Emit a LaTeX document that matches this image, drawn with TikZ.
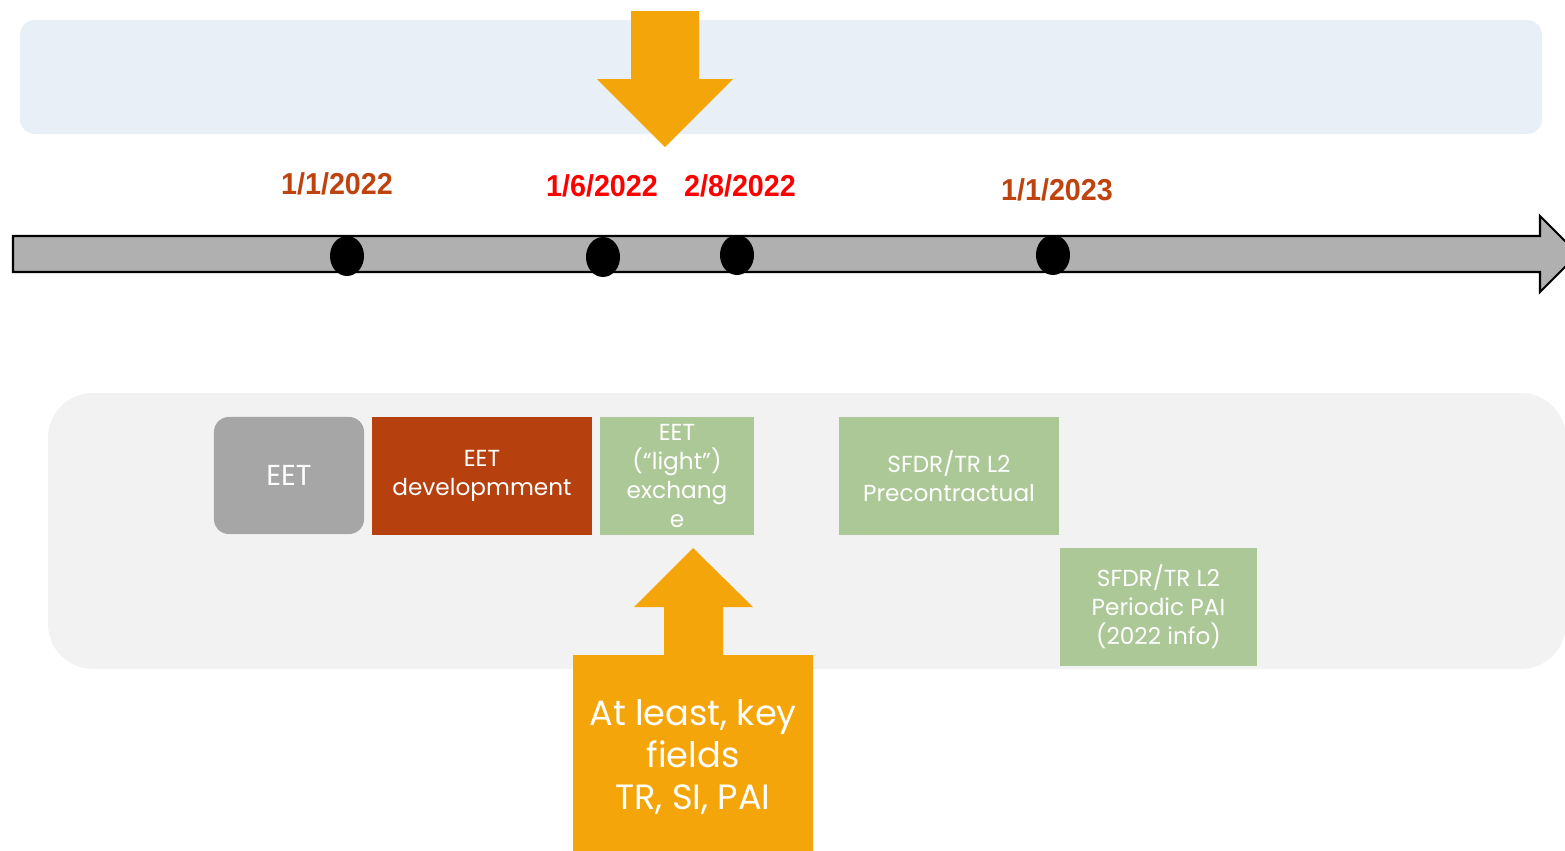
\documentclass[tikz,border=0pt]{standalone}
\usepackage{fontspec}
\setmainfont{Poppins}
\newfontfamily\datefont[FakeStretch=0.95]{Liberation Sans}
\definecolor{ffaaqq}{rgb}{0.957,0.647,0.039}
\definecolor{bbttqq}{rgb}{0.718,0.255,0.055}
\definecolor{aaccaa}{rgb}{0.675,0.784,0.588}
\definecolor{aaaaaa}{rgb}{0.651,0.651,0.651}
\definecolor{eeeeff}{rgb}{0.910,0.937,0.965}
\definecolor{eeeeee}{rgb}{0.949,0.949,0.949}
\definecolor{bbbbbb}{rgb}{0.690,0.690,0.690}
\definecolor{ccttqq}{rgb}{0.745,0.263,0.059}
\definecolor{ffqqqq}{rgb}{1,0,0}

\begin{document}
\begin{tikzpicture}[line cap=round,line join=round,x=0.01cm,y=-0.01cm,
  box/.style={rectangle,inner sep=0pt,align=center,text=white,minimum height=1.18cm,font=\fontsize{6.6}{8.3}\selectfont},
  date/.style={font=\datefont\bfseries\fontsize{8.6}{10}\selectfont}]
\clip(0,0) rectangle (1565,851);
% panels
\fill[color=eeeeff,rounded corners=0.15cm] (20,20) rectangle (1542,134);
\fill[color=eeeeee,rounded corners=0.45cm] (48,393) rectangle (1566,669);
% arrow down into the top panel
\fill[color=ffaaqq] (631,11) -- (699,11) -- (699,79) -- (733,79) -- (665,147) -- (597,79) -- (631,79) -- cycle;
% timeline
\filldraw[line width=0.6pt,fill=bbbbbb,line join=miter] (13,236) -- (1540,236) -- (1540,216) -- (1578,254) -- (1540,292) -- (1540,272) -- (13,272) -- cycle;
\foreach \x/\y in {347/256,603/257,737/255,1053/255}
  \fill (\x,\y) ellipse (0.17cm and 0.20cm);
\node[date,text=ccttqq] (d1) at (337,184) {1/1/2022};
\node[date,text=ffqqqq] (d2) at (602,186) {1/6/2022};
\node[date,text=ffqqqq] (d3) at (740,186) {2/8/2022};
\node[date,text=ccttqq] (d4) at (1057,190) {1/1/2023};
% phases
\node[box,fill=aaaaaa,rounded corners=0.15cm,minimum width=1.5cm,minimum height=1.17cm,font=\fontsize{8.2}{10}\selectfont] (eet) at (289,475.5) {EET};
\node[box,fill=bbttqq,minimum width=2.2cm] (dev) at (482,476) {EET\\developmment};
\node[box,fill=aaccaa,minimum width=1.54cm] (light) at (677,476) {EET\\(“light”)\\exchang\\e};
\node[box,fill=aaccaa,minimum width=2.2cm] (pre) at (949,476) {SFDR/TR L2\\Precontractual};
\node[box,fill=aaccaa,minimum width=1.97cm] (per) at (1158.5,607) {SFDR/TR L2\\Periodic PAI\\(2022 info)};
% arrow up to the exchange
\fill[color=ffaaqq] (693,548) -- (753,607) -- (723,607) -- (723,655) -- (813,655) -- (813,851) -- (573,851) -- (573,655) -- (664,655) -- (664,607) -- (634,607) -- cycle;
\node[align=center,text=white,font=\fontsize{10}{12}\selectfont] (fields) at (693,757) {At least, key\\fields\\TR, SI, PAI};
\end{tikzpicture}
\end{document}
